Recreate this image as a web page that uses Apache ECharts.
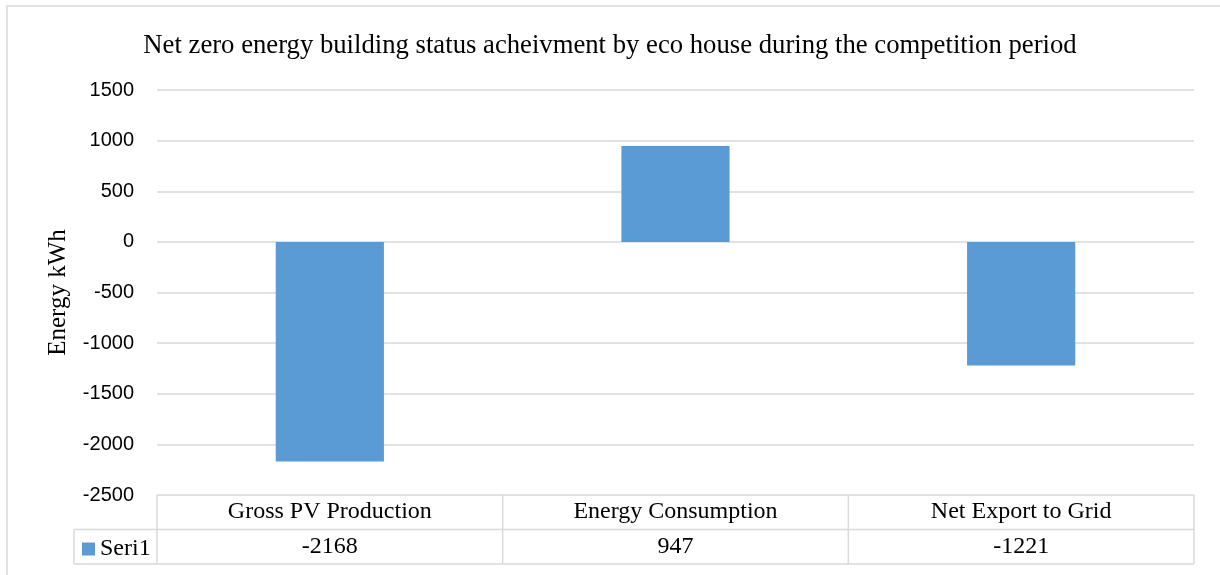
<!DOCTYPE html>
<html>
<head>
<meta charset="utf-8">
<script src="https://cdn.jsdelivr.net/npm/echarts@6/dist/echarts.min.js"></script>
<style>
  html, body { margin: 0; padding: 0; background: #fff; }
  #main { width: 1220px; height: 575px; }
</style>
</head>
<body>
<div id="main"></div>
<script>
// data
var categories = ['Gross PV Production', 'Energy Consumption', 'Net Export to Grid'];
var seri1 = [-2168, 947, -1221];
var seriesName = 'Seri1';
var yTicks = { min: -2500, max: 1500, interval: 500 };

// layout of the plot (pixels)
var gridLeft = 157, gridRight = 1194, gridTop = 90, gridBottom = 495;
var rowH = 34.5;
var lineColor = '#d9d9d9';
var serif = '"Liberation Serif", "DejaVu Serif", serif';

var chart = echarts.init(document.getElementById('main'));

// table borders under the plot
var tableLines = [];
function hline(x1, x2, y) {
  tableLines.push({ type: 'line', shape: { x1: x1, y1: y, x2: x2, y2: y }, style: { stroke: lineColor, lineWidth: 1.5 } });
}
function vline(x, y1, y2) {
  tableLines.push({ type: 'line', shape: { x1: x, y1: y1, x2: x, y2: y2 }, style: { stroke: lineColor, lineWidth: 1.5 } });
}
var colW = (gridRight - gridLeft) / categories.length;
hline(74, gridRight, gridBottom + rowH);
hline(74, gridRight, gridBottom + rowH * 2);
vline(74, gridBottom + rowH, gridBottom + rowH * 2);
for (var i = 0; i <= categories.length; i++) {
  vline(gridLeft + colW * i, gridBottom, gridBottom + rowH * 2);
}
// outer chart frame
tableLines.push({ type: 'rect', shape: { x: 7, y: 6, width: 1240, height: 600 }, style: { fill: null, stroke: lineColor, lineWidth: 1.5 } });

chart.setOption({
  animation: false,
  title: {
    text: 'Net zero energy building status acheivment by eco house during the competition period',
    left: 'center',
    top: 27,
    textStyle: { fontFamily: serif, fontSize: 26.7, fontWeight: 'normal', color: '#000' }
  },
  legend: {
    left: 77,
    top: 532,
    itemWidth: 13,
    itemHeight: 13,
    itemGap: 4,
    icon: 'rect',
    textStyle: { fontFamily: serif, fontSize: 24, color: '#000' },
    data: [seriesName]
  },
  grid: {
    left: gridLeft,
    right: 1220 - gridRight,
    top: gridTop,
    bottom: 575 - gridBottom,
    containLabel: false
  },
  xAxis: [
    {
      type: 'category',
      data: categories,
      position: 'bottom',
      axisLine: { show: false },
      axisTick: { show: false },
      axisLabel: { margin: 5, fontFamily: serif, fontSize: 24, color: '#000' }
    },
    {
      type: 'category',
      data: seri1.map(function (v) { return String(v); }),
      position: 'bottom',
      offset: rowH,
      axisLine: { show: false },
      axisTick: { show: false },
      axisLabel: { margin: 5, fontFamily: serif, fontSize: 24, color: '#000' }
    }
  ],
  yAxis: {
    type: 'value',
    min: yTicks.min,
    max: yTicks.max,
    interval: yTicks.interval,
    name: 'Energy kWh',
    nameLocation: 'middle',
    nameGap: 86,
    nameTextStyle: { fontFamily: serif, fontSize: 25, color: '#000' },
    axisLine: { show: false },
    axisTick: { show: false },
    axisLabel: {
      margin: 23,
      fontFamily: '"Liberation Sans", Arial, sans-serif',
      fontSize: 20,
      color: '#000',
      formatter: function (v) { return String(v); }
    },
    splitLine: { lineStyle: { color: lineColor, width: 1.5 } }
  },
  series: [{
    name: seriesName,
    type: 'bar',
    xAxisIndex: 0,
    data: seri1,
    barWidth: '31.3%',
    itemStyle: { color: '#5b9bd5' }
  }],
  graphic: tableLines
});
</script>
</body>
</html>
